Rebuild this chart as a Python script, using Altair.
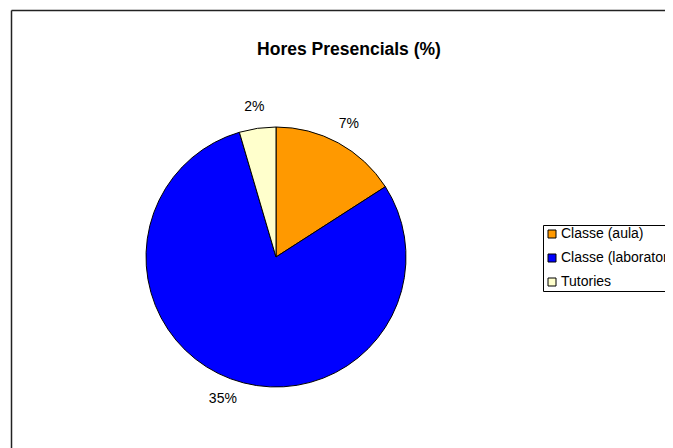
import altair as alt
import pandas as pd

categories = ["Classe (aula)", "Classe (laboratori)", "Tutories"]
values = [7, 35, 2]
labels = ["7%", "35%", "2%"]
colors = ["#FF9900", "#0000FF", "#FFFFCC"]
order = [0, 1, 2]

df = pd.DataFrame({"cat": categories, "v": values, "lab": labels, "ord": order})

FONT = "Liberation Sans"
CX, CY = 268, 249

base = alt.Chart(df).encode(
    theta=alt.Theta("v:Q", stack=True),
    order=alt.Order("ord:Q"),
    x=alt.value(CX),
    y=alt.value(CY),
)

pie = base.mark_arc(outerRadius=130, stroke="black", strokeWidth=1).encode(
    color=alt.Color(
        "cat:N",
        scale=alt.Scale(domain=categories, range=colors),
        legend=alt.Legend(
            title=None,
            orient="none",
            legendX=535,
            legendY=217,
            symbolType="square",
            symbolSize=64,
            symbolStrokeColor="black",
            symbolStrokeWidth=1,
            symbolOpacity=1,
            labelFont=FONT,
            labelFontSize=14,
            labelColor="black",
            labelLimit=400,
            strokeColor="black",
            padding=2,
            rowPadding=10,
            labelOffset=2,
        ),
    )
)

text = base.mark_text(radius=152, font=FONT, fontSize=14, color="black").encode(
    text="lab:N"
)

title_df = pd.DataFrame({"t": ["Hores Presencials (%)"]})
title = alt.Chart(title_df).mark_text(
    font=FONT, fontSize=17.5, fontWeight="bold", color="black"
).encode(x=alt.value(341), y=alt.value(42), text="t:N")

frame_v = alt.Chart(title_df).mark_rule(color="#222", strokeWidth=1.5).encode(
    x=alt.value(3.5), y=alt.value(2.5), y2=alt.value(445)
)
frame_h = alt.Chart(title_df).mark_rule(color="#222", strokeWidth=1.5).encode(
    x=alt.value(3.5), x2=alt.value(670), y=alt.value(2.5)
)

chart = alt.layer(frame_v, frame_h, pie, text, title).properties(
    width=657,
    height=440,
    padding=0,
    autosize=alt.AutoSizeParams(type="none"),
).configure_view(stroke=None)

chart.save("out.html", embed_options={"renderer": "svg", "actions": False})
